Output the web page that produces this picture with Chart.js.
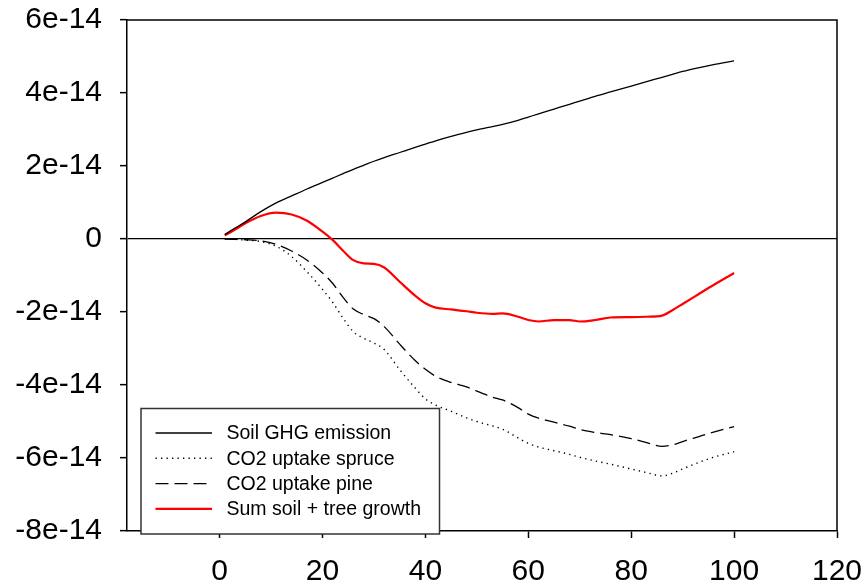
<!DOCTYPE html>
<html>
<head>
<meta charset="utf-8">
<script src="https://cdn.jsdelivr.net/npm/chart.js@4/dist/chart.umd.min.js"></script>
<style>
  html, body { margin: 0; padding: 0; background: #fff; }
  #wrap { width: 868px; height: 587px; }
</style>
</head>
<body>
<div id="wrap"><canvas id="c" width="868" height="587"></canvas></div>
<script>
// ---- data ----
const years = [1, 3, 5, 8, 11, 14, 17, 20, 22, 24, 26, 28, 30, 32, 35, 38, 40, 42, 45, 48, 50, 53, 55, 58, 60, 62, 65, 68, 70, 73, 76, 80, 83, 86, 88, 90, 93, 96, 100];

const soilGHG = [0.12e-14, 0.30e-14, 0.47e-14, 0.75e-14, 0.99e-14, 1.18e-14, 1.37e-14, 1.55e-14, 1.67e-14, 1.79e-14, 1.91e-14, 2.02e-14, 2.13e-14, 2.23e-14, 2.37e-14, 2.51e-14, 2.60e-14, 2.69e-14, 2.81e-14, 2.92e-14, 2.99e-14, 3.08e-14, 3.14e-14, 3.25e-14, 3.34e-14, 3.43e-14, 3.56e-14, 3.69e-14, 3.78e-14, 3.91e-14, 4.03e-14, 4.19e-14, 4.31e-14, 4.43e-14, 4.51e-14, 4.59e-14, 4.69e-14, 4.78e-14, 4.88e-14];

const uptakeSpruce = [0, -0.01e-14, -0.03e-14, -0.07e-14, -0.20e-14, -0.48e-14, -0.90e-14, -1.38e-14, -1.74e-14, -2.17e-14, -2.54e-14, -2.72e-14, -2.85e-14, -3.03e-14, -3.58e-14, -4.08e-14, -4.38e-14, -4.55e-14, -4.72e-14, -4.90e-14, -5.00e-14, -5.12e-14, -5.21e-14, -5.45e-14, -5.60e-14, -5.70e-14, -5.80e-14, -5.90e-14, -5.98e-14, -6.08e-14, -6.17e-14, -6.30e-14, -6.40e-14, -6.49e-14, -6.42e-14, -6.30e-14, -6.13e-14, -5.98e-14, -5.83e-14];

const uptakePine = [0, -0.01e-14, -0.02e-14, -0.05e-14, -0.15e-14, -0.33e-14, -0.58e-14, -0.93e-14, -1.22e-14, -1.60e-14, -1.92e-14, -2.07e-14, -2.18e-14, -2.40e-14, -2.88e-14, -3.33e-14, -3.57e-14, -3.76e-14, -3.93e-14, -4.05e-14, -4.17e-14, -4.33e-14, -4.41e-14, -4.62e-14, -4.80e-14, -4.91e-14, -5.02e-14, -5.13e-14, -5.22e-14, -5.30e-14, -5.36e-14, -5.47e-14, -5.58e-14, -5.68e-14, -5.64e-14, -5.55e-14, -5.42e-14, -5.29e-14, -5.14e-14];

const sumSoilTree = [0.10e-14, 0.26e-14, 0.43e-14, 0.63e-14, 0.72e-14, 0.67e-14, 0.50e-14, 0.20e-14, -0.03e-14, -0.32e-14, -0.58e-14, -0.67e-14, -0.68e-14, -0.78e-14, -1.17e-14, -1.55e-14, -1.76e-14, -1.88e-14, -1.93e-14, -1.98e-14, -2.02e-14, -2.05e-14, -2.04e-14, -2.13e-14, -2.22e-14, -2.26e-14, -2.22e-14, -2.22e-14, -2.26e-14, -2.22e-14, -2.15e-14, -2.14e-14, -2.13e-14, -2.10e-14, -1.95e-14, -1.78e-14, -1.52e-14, -1.26e-14, -0.93e-14];

const seriesLabels = ['Soil GHG emission', 'CO2 uptake spruce', 'CO2 uptake pine', 'Sum soil + tree growth'];

const xTicks = [0, 20, 40, 60, 80, 100, 120];
const xTickLabels = ['0', '20', '40', '60', '80', '100', '120'];
const yTicks = [-8e-14, -6e-14, -4e-14, -2e-14, 0, 2e-14, 4e-14, 6e-14];
const yTickLabels = ['-8e-14', '-6e-14', '-4e-14', '-2e-14', '0', '2e-14', '4e-14', '6e-14'];

// ---- build ----
const pts = arr => years.map((x, i) => ({ x: x, y: arr[i] }));
const FONT = '"Liberation Sans", Arial, Helvetica, sans-serif';

const framePlugin = {
  id: 'frame',
  afterDraw(chart) {
    const { ctx, chartArea: a } = chart;
    ctx.save();
    ctx.strokeStyle = '#000';
    ctx.lineWidth = 1.5;
    ctx.beginPath();
    ctx.moveTo(a.left, a.top);
    ctx.lineTo(a.right, a.top);
    ctx.lineTo(a.right, a.bottom);
    ctx.stroke();
    ctx.restore();
  }
};

const legendPlugin = {
  id: 'boxLegend',
  afterDraw(chart) {
    const { ctx, chartArea: a } = chart;
    const bx = a.left + 14, by = 408.5, bw = 298.5, bh = 125.5;
    ctx.save();
    ctx.fillStyle = '#fff';
    ctx.fillRect(bx, by, bw, bh);
    ctx.strokeStyle = '#333';
    ctx.lineWidth = 1.5;
    ctx.strokeRect(bx, by, bw, bh);
    ctx.font = '19.5px ' + FONT;
    ctx.textBaseline = 'middle';
    ctx.fillStyle = '#000';
    chart.data.datasets.forEach((ds, i) => {
      const yy = by + 24.5 + i * 25.3;
      ctx.save();
      ctx.strokeStyle = ds.borderColor;
      ctx.lineWidth = ds.borderWidth;
      ctx.setLineDash(ds.borderDash || []);
      ctx.beginPath();
      ctx.moveTo(bx + 14.5, yy);
      ctx.lineTo(bx + 71, yy);
      ctx.stroke();
      ctx.restore();
      ctx.fillText(ds.label, bx + 85.5, yy + 1);
    });
    ctx.restore();
  }
};

new Chart(document.getElementById('c'), {
  type: 'line',
  data: {
    datasets: [
      { label: seriesLabels[0], data: pts(soilGHG), borderColor: '#000', borderWidth: 1.3, borderDash: [] },
      { label: seriesLabels[1], data: pts(uptakeSpruce), borderColor: '#000', borderWidth: 1.4, borderDash: [1.3, 4.2] },
      { label: seriesLabels[2], data: pts(uptakePine), borderColor: '#000', borderWidth: 1.3, borderDash: [13, 6] },
      { label: seriesLabels[3], data: pts(sumSoilTree), borderColor: '#ff0000', borderWidth: 2.2, borderDash: [] }
    ]
  },
  options: {
    responsive: false,
    animation: false,
    devicePixelRatio: 1,
    layout: { padding: 0 },
    elements: {
      point: { radius: 0, hoverRadius: 0 },
      line: { cubicInterpolationMode: 'monotone', fill: false }
    },
    plugins: { legend: { display: false }, tooltip: { enabled: false } },
    scales: {
      x: {
        type: 'linear',
        min: -18,
        max: 120,
        afterBuildTicks(s) { s.ticks = xTicks.map(v => ({ value: v })); },
        afterFit(s) { s.height = 56; s.paddingLeft = 0; s.paddingRight = 31; },
        border: { display: true, color: '#000', width: 1.5 },
        grid: { display: true, drawOnChartArea: false, drawTicks: true, tickLength: 7, tickColor: '#000', tickWidth: 1.5 },
        ticks: {
          color: '#000',
          font: { family: FONT, size: 30 },
          padding: 16,
          maxRotation: 0,
          autoSkip: false,
          callback: (v, i) => xTickLabels[i]
        }
      },
      y: {
        type: 'linear',
        min: -8e-14,
        max: 6e-14,
        afterBuildTicks(s) { s.ticks = yTicks.map(v => ({ value: v })); },
        afterFit(s) { s.width = 127; s.paddingTop = 20; s.paddingBottom = 0; },
        border: { display: true, color: '#000', width: 1.5 },
        grid: {
          display: true,
          drawOnChartArea: true,
          drawTicks: true,
          tickLength: 7,
          tickColor: '#000',
          tickWidth: 1.5,
          color: c => (c.tick && c.tick.value === 0) ? '#000' : 'rgba(0,0,0,0)',
          lineWidth: 1.3
        },
        ticks: {
          color: '#000',
          font: { family: FONT, size: 30 },
          padding: 18,
          autoSkip: false,
          callback: (v, i) => yTickLabels[i]
        }
      }
    }
  },
  plugins: [framePlugin, legendPlugin]
});
</script>
</body>
</html>
